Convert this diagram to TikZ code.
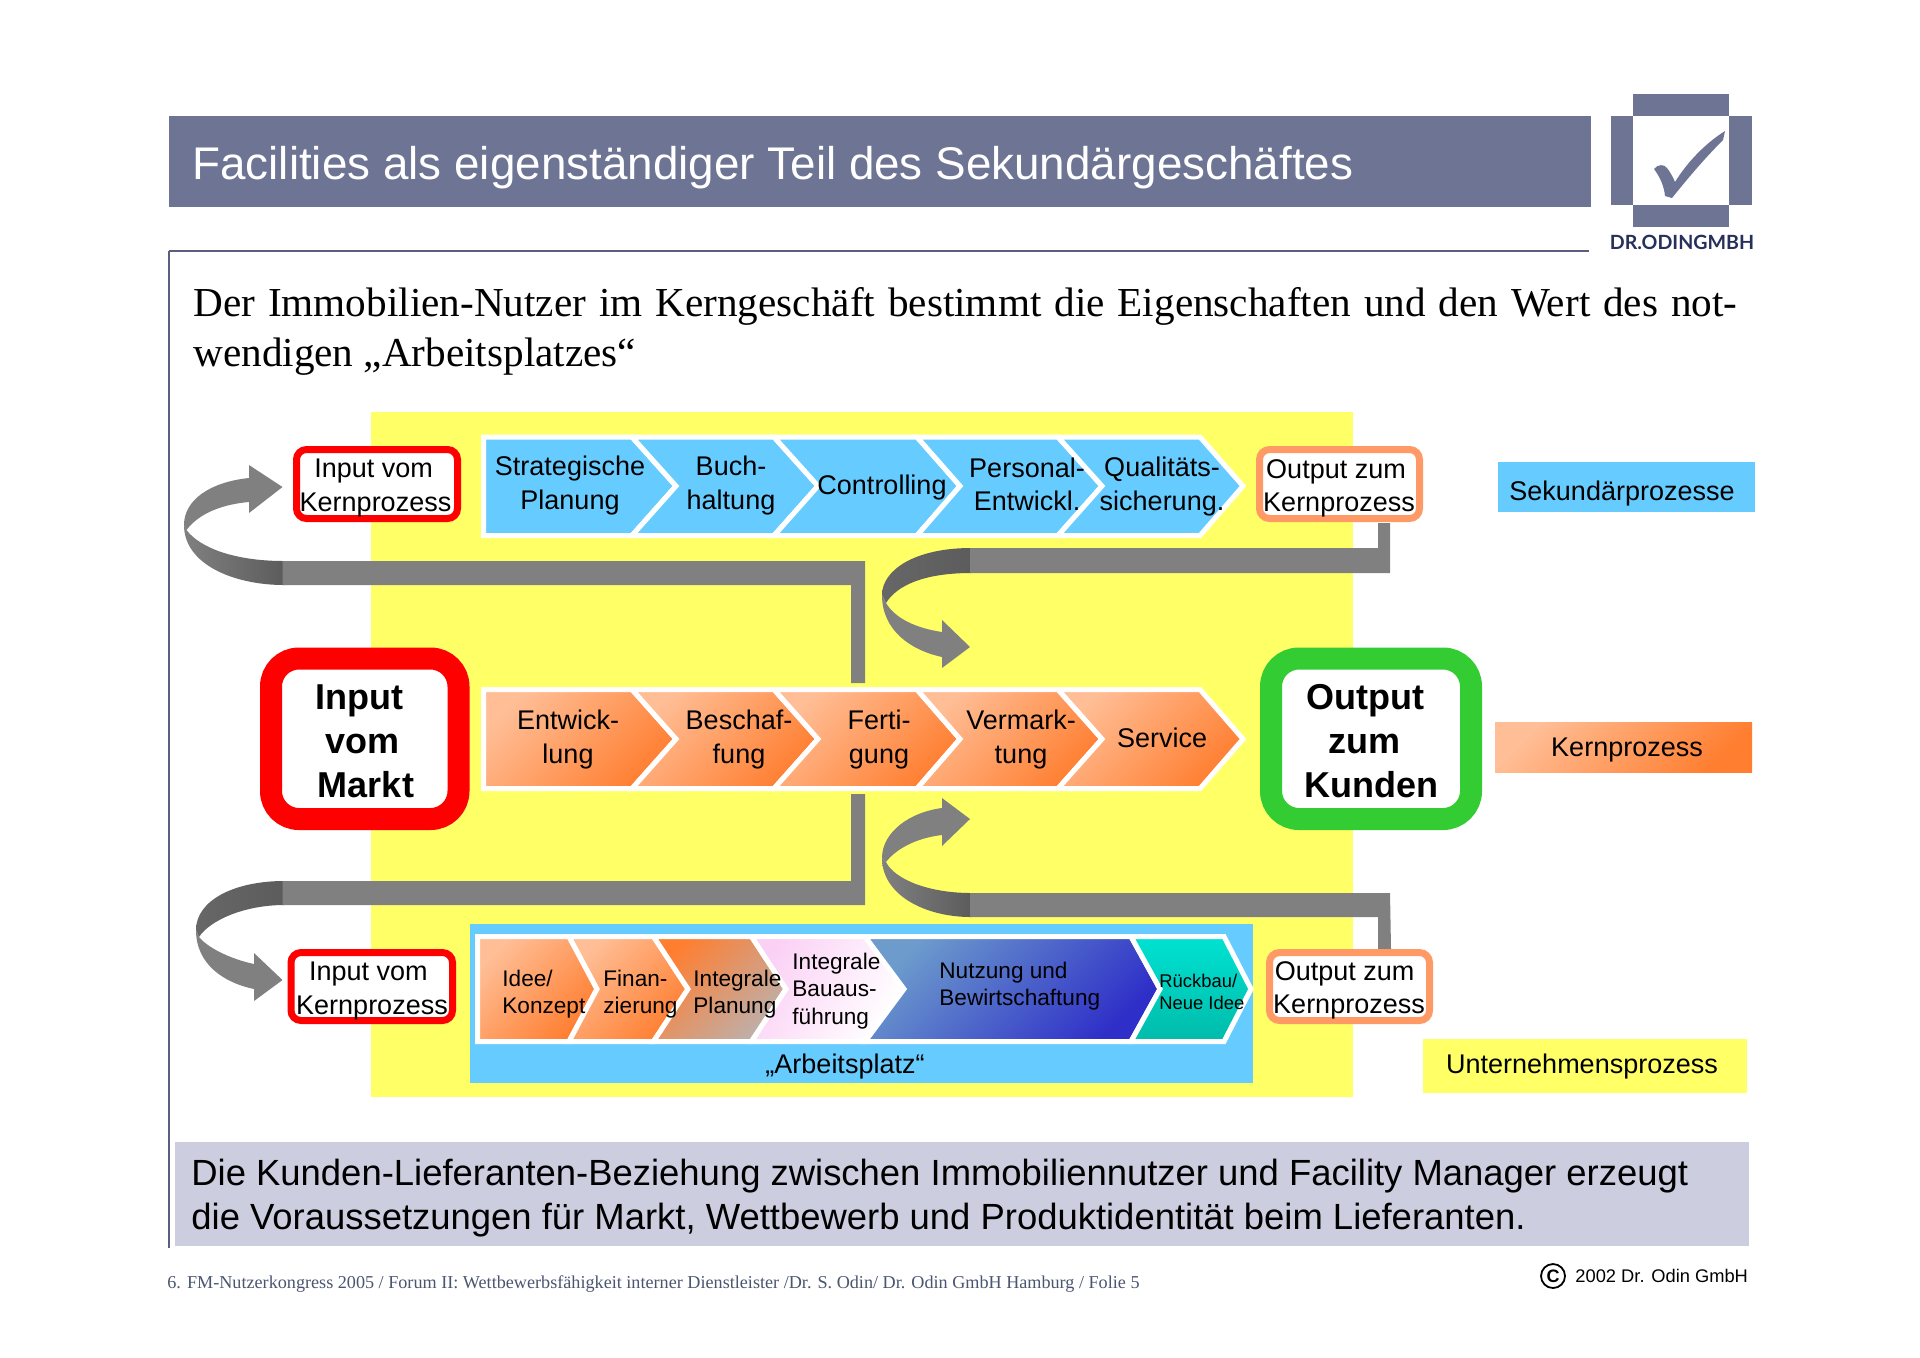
\documentclass[tikz,border=0pt]{standalone}
\usepackage{fontspec}
\setmainfont{Liberation Sans}
\newfontfamily\serifface{Liberation Serif}
\newfontfamily\logoface{Lato}
\definecolor{slate}{HTML}{6E7494}
\definecolor{slateline}{HTML}{5A5F80}
\definecolor{band}{HTML}{CDCDE0}
\definecolor{skyb}{HTML}{66CCFF}
\definecolor{yell}{HTML}{FFFF66}
\definecolor{kernA}{HTML}{FFBE96}
\definecolor{kernB}{HTML}{FF7E30}
\definecolor{peach}{HTML}{FF9966}
\definecolor{grn}{HTML}{33CC33}
\definecolor{greyfat}{HTML}{808080}
\definecolor{greydark}{HTML}{5C5C5C}
\definecolor{navy}{HTML}{27305A}
\definecolor{greyish}{HTML}{BDB0AC}
\definecolor{pinkish}{HTML}{FBD0F5}
\definecolor{blueA}{HTML}{6C9BCC}
\definecolor{blueB}{HTML}{2E2EC8}
\definecolor{tealA}{HTML}{00E2D2}
\definecolor{tealB}{HTML}{00BBAA}
\definecolor{footgrey}{HTML}{4A5570}
\newcommand\chev[5]{\path[#5] (#1,\rowT)--(#2,\rowT)--(#4,\rowM)--(#2,\rowB)--(#1,\rowB)--(#3,\rowM)--cycle;}
\tikzset{
  lbl/.style={inner sep=0pt,align=center,font=\fontsize{13.5}{16.6}\selectfont},
  small/.style={inner sep=0pt,align=left,font=\fontsize{11.3}{13.8}\selectfont},
  big/.style={inner sep=0pt,align=center,font=\fontsize{18}{22}\selectfont\bfseries},
  chevw/.style={draw=white,line width=2.5pt,miter limit=10},
  chevb/.style={chevw,fill=skyb},
  chevk/.style={chevw,top color=kernA,bottom color=kernB,shading angle=45},
  smallbox/.style={line width=3.5pt,fill=white,rounded corners=5pt},
  bigbox/.style={line width=11pt,fill=white,rounded corners=14pt},
  fat/.style={fill=greyfat},
  fold/.style={left color=greyfat,right color=greydark},
}
\begin{document}
\begin{tikzpicture}[x=0.5pt,y=-0.5pt]
\useasboundingbox (0,0) rectangle (1920,1357);
\fill[white] (0,0) rectangle (1920,1357);
% header
\fill[slate] (169,116) rectangle (1591,207);
\node[anchor=base west,inner sep=0pt,text=white,font=\fontsize{22.9}{28}\selectfont] (title) at (192,179) {Facilities als eigenständiger Teil des Sekundärgeschäftes};
% logo
\fill[slate] (1633,94) rectangle (1729,116);
\fill[slate] (1611,116) rectangle (1633,205);
\fill[slate] (1729,116) rectangle (1752,205);
\fill[slate] (1633,205) rectangle (1729,227);
\fill[slate] (1654,169) .. controls (1658,164) and (1664,164) .. (1667,168) .. controls (1670,172) and (1673,177) .. (1675,182) .. controls (1688,161) and (1706,143) .. (1725,131) -- (1723,140) .. controls (1705,158) and (1688,178) .. (1672,198) -- (1665,196) .. controls (1664,186) and (1660,177) .. (1654,169) -- cycle;
\node[anchor=base,inner sep=0pt,text=navy,font=\fontsize{9.8}{11}\logoface\bfseries] (logotext) at (1682,249) {DR.ODINGMBH};
% rules
\draw[slateline,line width=1pt] (169,251) -- (1589,251);
\draw[slateline,line width=1pt] (169,251) -- (169,1248);
% heading
\node[anchor=base west,inner sep=0pt,font=\fontsize{20.6}{25}\serifface] (head1) at (193,316) {\makebox[772pt][s]{Der Immobilien-Nutzer im Kerngeschäft bestimmt die Eigenschaften und den Wert des not-}};
\node[anchor=base west,inner sep=0pt,font=\fontsize{20.6}{25}\serifface] (head2) at (193,366) {wendigen „Arbeitsplatzes“};
% yellow field
\fill[yell] (371,412) rectangle (1353,1097);
% ---- grey arrows
% top left
\path[fold] (184,525) .. controls (184,565) and (235,585) .. (284,585) -- (284,561) .. controls (235,561) and (200,548) .. (186.5,530) -- cycle;
\path[fat] (186.5,530) .. controls (200,512) and (225,504) .. (249,502) -- (249,513) -- (282.5,487) -- (249,465) -- (249,478) .. controls (210,482) and (184,500) .. (184,525) -- cycle;
\path[fat] (282.5,561) -- (865,561) -- (865,683) -- (851,683) -- (851,585) -- (282.5,585) -- cycle;
% top right
\path[fold,left color=greydark!70!greyfat,right color=greydark] (971,548) .. controls (915,548) and (882,570) .. (882,595) -- (886,603) .. controls (897,585) and (925,573) .. (971,573) -- cycle;
\path[fat] (882,595) .. controls (882,630) and (910,650) .. (942,657) -- (942,668) -- (970,647) -- (942,620) -- (942,632) .. controls (915,628) and (895,618) .. (886,603) -- cycle;
\path[fat] (970,548) -- (1378,548) -- (1378,523) -- (1390,523) -- (1390,573) -- (970,573) -- cycle;
% bottom right
\path[fold] (882,858) .. controls (882,895) and (925,917) .. (971,917) -- (971,893) .. controls (930,893) and (895,880) .. (886,862) -- cycle;
\path[fat] (886,862) .. controls (895,850) and (915,838) .. (942,835) -- (942,846) -- (970,819) -- (942,798) -- (942,808) .. controls (910,812) and (882,832) .. (882,858) -- cycle;
\path[fat] (970,893) -- (1390,893) -- (1391,949) -- (1378,949) -- (1378,917) -- (970,917) -- cycle;
% bottom left
\path[fold,left color=greydark!70!greyfat,right color=greydark] (284,881) .. controls (235,881) and (196,900) .. (196,930) -- (199,937) .. controls (210,920) and (245,905) .. (284,905) -- cycle;
\path[fat] (196,930) .. controls (196,965) and (225,983) .. (254,989) -- (254,1001) -- (282.5,980) -- (254,953) -- (254,964) .. controls (235,960) and (210,950) .. (199,937) -- cycle;
\path[fat] (282.5,881) -- (851,881) -- (851,794) -- (865,794) -- (865,905) -- (282.5,905) -- cycle;
% ---- top row
\def\rowT{437}\def\rowB{535.5}\def\rowM{486}
\chev{483.5}{632}{483.5}{676}{chevb}
\chev{632}{774}{676}{818}{chevb}
\chev{774}{917}{818}{960}{chevb}
\chev{917}{1058}{960}{1102}{chevb}
\chev{1058}{1200}{1102}{1243}{chevb}
\node[lbl] (s1) at (570,485.5) {Strategische\\Planung};
\node[lbl] (s2) at (731,485.5) {Buch-\\haltung};
\node[lbl] (s3) at (882,488) {Controlling};
\node[lbl] (s4) at (1027,484) {Personal-\\Entwickl.};
\node[lbl] (s5) at (1162,486.5) {Qualitäts-\\sicherung.};
% ---- middle row
\def\rowT{689.5}\def\rowB{788.5}\def\rowM{739}
\chev{483.5}{632}{483.5}{676}{chevk}
\chev{632}{774}{676}{818}{chevk}
\chev{774}{917}{818}{960}{chevk}
\chev{917}{1058}{960}{1102}{chevk}
\chev{1058}{1200}{1102}{1243}{chevk}
\node[lbl] (k1) at (568,739.5) {Entwick-\\lung};
\node[lbl] (k2) at (739,739.5) {Beschaf-\\fung};
\node[lbl] (k3) at (879,739.5) {Ferti-\\gung};
\node[lbl] (k4) at (1021,739.5) {Vermark-\\tung};
\node[lbl] (k5) at (1162,738) {Service};
% ---- arbeitsplatz
\fill[skyb] (470,924) rectangle (1253,1083);
\def\rowT{936.5}\def\rowB{1041.5}\def\rowM{989}
\chev{477.5}{569}{477.5}{597}{chevk}
\chev{569}{653.5}{597}{688}{chevk}
\chev{653.5}{751.5}{688}{786}{chevw,top color=kernB,bottom color=greyish,shading angle=45}
\chev{751.5}{865}{786}{904}{chevw,top color=pinkish,bottom color=white,shading angle=60}
\chev{865}{1131}{904}{1160}{chevw,top color=blueA,bottom color=blueB,shading angle=45}
\chev{1131}{1224}{1160}{1251}{chevw,top color=tealA,bottom color=tealB}
\node[small,anchor=west] (a1) at (502,994) {Idee/\\Konzept};
\node[small,anchor=west] (a2) at (603,994) {Finan-\\zierung};
\node[small,anchor=west] (a3) at (693,994) {Integrale\\Planung};
\node[small,anchor=west] (a4) at (792,991) {Integrale\\Bauaus-\\führung};
\node[small,anchor=west] (a5) at (939,986) {Nutzung und\\Bewirtschaftung};
\node[inner sep=0pt,align=left,anchor=west,font=\fontsize{9.2}{11}\selectfont] (a6) at (1159,992) {Rückbau/\\Neue Idee};
\node[lbl] (arb) at (845,1066.5) {„Arbeitsplatz“};
% ---- boxes
\draw[smallbox,draw=red] (296.5,449.5) rectangle (457.5,518.5);
\node[lbl] (ik1) at (375.5,488) {Input vom\kern1.8pt\\Kernprozess};
\draw[smallbox,draw=peach] (1259.5,449.5) rectangle (1419.5,518.5);
\node[lbl] (ok1) at (1339,488) {Output zum\kern3pt\\Kernprozess};
\draw[smallbox,draw=red] (291,952.5) rectangle (452.5,1020.5);
\node[lbl] (ik2) at (372,991) {Input vom\kern3.7pt\\Kernprozess};
\draw[smallbox,draw=peach] (1269.5,952.5) rectangle (1429.5,1020.5);
\node[lbl] (ok2) at (1349,990.5) {Output zum\kern4.3pt\\Kernprozess};
\draw[bigbox,draw=red] (271,658.5) rectangle (458.5,819);
\node[big] (im) at (363,741) {Input\kern3.7pt\\vom\kern0.6pt\\\hspace*{3pt}Markt};
\draw[bigbox,draw=grn] (1271,658.5) rectangle (1471,819);
\node[big] (ok) at (1368,741) {Output\kern2.5pt\\zum\kern3.7pt\\\hspace*{3pt}Kunden};
% ---- legend
\fill[skyb] (1498,462) rectangle (1755,512);
\node[lbl] (l1) at (1622,494) {Sekundärprozesse};
\shade[top color=kernA,bottom color=kernB,shading angle=45] (1495,722) rectangle (1752,772);
\node[lbl] (l2) at (1627,749.5) {Kernprozess};
\fill[yell] (1423,1039) rectangle (1747,1093);
\node[lbl] (l3) at (1582,1066.5) {Unternehmensprozess};
% ---- summary band
\fill[band] (175,1142) rectangle (1749,1246);
\node[anchor=base west,inner sep=0pt,font=\fontsize{18.22}{22}\selectfont] (b1) at (191,1185) {Die Kunden-Lieferanten-Beziehung zwischen Immobiliennutzer und Facility Manager erzeugt};
\node[anchor=base west,inner sep=0pt,font=\fontsize{18.22}{22}\selectfont] (b2) at (191,1229) {die Voraussetzungen für Markt, Wettbewerb und Produktidentität beim Lieferanten.};
% ---- footer
\node[anchor=base west,inner sep=0pt,text=footgrey,font=\fontsize{9.08}{11}\serifface] (foot) at (167,1288) {6. FM-Nutzerkongress 2005 / Forum II: Wettbewerbsfähigkeit interner Dienstleister /Dr. S. Odin/ Dr. Odin GmbH Hamburg / Folie 5};
\node[circle,draw=black,line width=0.9pt,minimum size=12pt,inner sep=0pt,font=\fontsize{9}{10}\selectfont\bfseries] (cc) at (1553,1276) {C};
\node[anchor=base west,inner sep=0pt,font=\fontsize{9.15}{11}\selectfont] (copy) at (1575,1282) {2002 Dr. Odin GmbH};
\end{tikzpicture}
\end{document}
